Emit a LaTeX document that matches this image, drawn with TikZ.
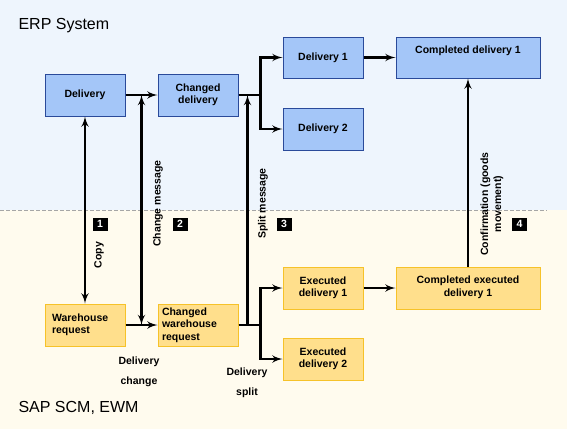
\documentclass[tikz,border=0pt]{standalone}
\usepackage{fontspec}
\setmainfont{Liberation Sans}
\usetikzlibrary{calc}
\usetikzlibrary{arrows}

\definecolor{erpbg}{HTML}{EEF5FD}
\definecolor{scmbg}{HTML}{FFFBEE}
\definecolor{bluefill}{HTML}{A4C6F8}
\definecolor{blueline}{HTML}{2A4A9A}
\definecolor{yellowfill}{HTML}{FFDF8C}
\definecolor{yellowline}{HTML}{F6C229}

\tikzset{
  box/.style={draw, line width=1pt, minimum width=80pt, minimum height=42pt, inner sep=0pt, font=\bfseries\fontsize{10.5}{12.5}\selectfont, align=center},
  erpbox/.style={box, fill=bluefill, draw=blueline},
  scmbox/.style={box, fill=yellowfill, draw=yellowline},
  lefttext/.style={text width=72pt, align=left},
  flow/.style={line width=2.5pt, >=latex'},
  lbl/.style={font=\bfseries\fontsize{10.5}{13}\selectfont, rotate=90, align=center},
  badge/.style={fill=black, text=white, font=\bfseries\fontsize{10.5}{10}\selectfont, minimum width=15pt, minimum height=13pt, inner sep=0pt},
}

\begin{document}
\begin{tikzpicture}[x=1pt, y=-1pt]
\useasboundingbox (0,0) rectangle (567,429);
\fill[erpbg] (0,0) rectangle (567,210);
\fill[scmbg] (0,210) rectangle (567,429);
\draw[gray!70, dash pattern=on 4pt off 2pt] (0,210) -- (547,210);

\node[anchor=west, font=\fontsize{16}{16}\selectfont] (erp) at (15,26) {ERP System};
\node[anchor=west, font=\fontsize{16}{16}\selectfont] (scm) at (15,408) {SAP SCM, EWM};

% ERP side
\node[erpbox] (dl) at (85,95) {Delivery};
\node[erpbox] (cd) at (198,95) {Changed\\delivery};
\node[erpbox, minimum height=41pt] (d1) at (323,57.5) {Delivery 1};
\node[erpbox] (d2) at (323,129) {Delivery 2};
\node[erpbox, minimum width=144pt, minimum height=41pt, label={[font=\bfseries\fontsize{10.5}{12.5}\selectfont, anchor=north, yshift=-6pt]north:Completed delivery 1}] (cd1) at (468,57.5) {};

% SCM side
\node[scmbox, lefttext, text width=66pt] (wr) at (85,325) {Warehouse\\request};
\node[scmbox, lefttext] (cwr) at (198,325) {Changed\\warehouse\\request};
\node[scmbox] (ed1) at (323,288) {Executed\\delivery 1};
\node[scmbox] (ed2) at (323,359) {Executed\\delivery 2};
\node[scmbox, minimum width=144pt, label={[font=\bfseries\fontsize{10.5}{12.5}\selectfont, anchor=north, align=center, yshift=-6pt]north:Completed executed\\delivery 1}] (ced1) at (468,288) {};

% connectors
\coordinate (cmtop) at ($(dl.east)!.5!(cd.west)$);
\coordinate (cmbot) at ($(wr.east)!.5!(cwr.west)$);
\coordinate (smtop) at ($(cd.east)+(9,0)$);
\coordinate (smbot) at ($(cwr.east)+(9,0)$);

\draw[flow, ->] (dl) -- (cd);
\draw[flow, ->] (wr) -- (cwr);
\draw[flow, <->] (dl.south) -- (wr.north);
\draw[flow, <->] (cmbot) -- (cmtop);
\draw[flow, ->] (smbot) -- (smtop);
\draw[flow, ->] (cd.east) -- ++(22,0) |- (d1);
\draw[flow, ->] (cd.east) -- ++(22,0) |- (d2);
\draw[flow, ->] (cwr.east) -- ++(22,0) |- (ed1);
\draw[flow, ->] (cwr.east) -- ++(22,0) |- (ed2);
\draw[flow, ->] (d1) -- (cd1);
\draw[flow, ->] (ed1) -- (ced1);
\draw[flow, ->] (ced1.north) -- (cd1.south);

% labels
\node[lbl] (copy) at (99,255) {Copy};
\node[lbl] (chmsg) at (158,203.5) {Change message};
\node[lbl] (spmsg) at (263,203.5) {Split message};
\node[lbl] (conf) at (492,204) {Confirmation (goods\\movement)};
\node[font=\bfseries\fontsize{10.5}{20}\selectfont, align=center] (dlch) at (139,372) {Delivery\\change};
\node[font=\bfseries\fontsize{10.5}{20}\selectfont, align=center] (dlsp) at (247,382.5) {Delivery\\split};

\node[badge] (n1) at (100,224) {1};
\node[badge] (n2) at (180,224) {2};
\node[badge] (n3) at (284,224) {3};
\node[badge] (n4) at (519.5,224) {4};
\end{tikzpicture}
\end{document}
